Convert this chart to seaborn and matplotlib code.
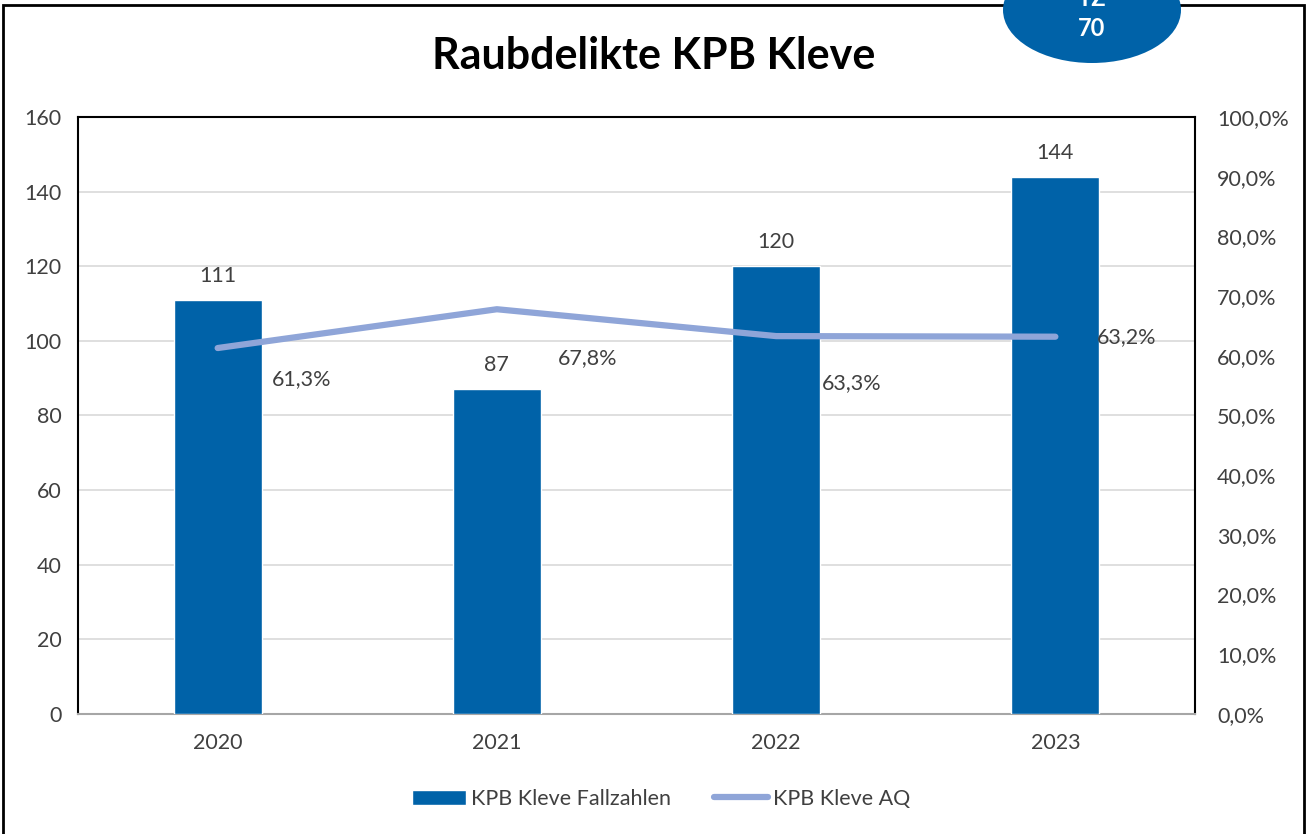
import numpy as np
import pandas as pd
import matplotlib
matplotlib.use("Agg")
import matplotlib.pyplot as plt
from matplotlib.patches import Rectangle, Ellipse
from matplotlib.ticker import FuncFormatter
import seaborn as sns

# data
years = ["2020", "2021", "2022", "2023"]
fallzahlen = [111, 87, 120, 144]
aq = [61.3, 67.8, 63.3, 63.2]

bar_color = "#0062A8"
line_color = "#8FA5D8"
txt = "#404040"
fs = 15.5

sns.set_style("white")
plt.rcParams["font.family"] = ["Lato", "DejaVu Sans"]

df = pd.DataFrame({"Jahr": years, "Fallzahlen": fallzahlen, "AQ": aq})

fig = plt.figure(figsize=(13.07, 8.34), dpi=100)
ax = fig.add_axes([0.0597, 0.1439, 0.8546, 0.7158])

sns.barplot(data=df, x="Jahr", y="Fallzahlen", color=bar_color, width=0.315,
            saturation=1, ax=ax, zorder=3, label="KPB Kleve Fallzahlen")
if ax.get_legend() is not None:
    ax.get_legend().remove()
ax.set_ylim(0, 160)
ax.set_yticks(range(0, 161, 20))
ax.yaxis.grid(True, color="#d9d9d9", linewidth=1.2, zorder=0)
ax.set_axisbelow(True)
ax.set_xlabel("")
ax.set_ylabel("")
ax.set_xlim(-0.5, 3.5)
for s in ax.spines.values():
    s.set_color("black")
    s.set_linewidth(1.5)
ax.spines["bottom"].set_color("#a6a6a6")
ax.tick_params(axis="y", labelsize=fs, labelcolor=txt, length=0, pad=12)
ax.tick_params(axis="x", labelsize=fs, labelcolor=txt, length=0, pad=14)

for i, v in enumerate(fallzahlen):
    ax.annotate(str(v), (i, v), xytext=(0, 10), textcoords="offset points",
                ha="center", va="bottom", fontsize=fs, color=txt)

ax2 = ax.twinx()
sns.lineplot(x=np.arange(len(years)), y=aq, color=line_color, linewidth=4.5,
             ax=ax2, zorder=4, label="KPB Kleve AQ", legend=False,
             solid_capstyle="round")
ax2.set_ylim(0, 100)
ax2.set_yticks(range(0, 101, 10))
ax2.yaxis.set_major_formatter(FuncFormatter(lambda v, p: f"{v:.1f}%".replace(".", ",")))
ax2.tick_params(axis="y", labelsize=fs, labelcolor=txt, length=0, pad=16)
for s in ax2.spines.values():
    s.set_visible(False)
ax2.set_ylabel("")

offsets = [(39, -22), (44, -35), (33, -34), (30, 0)]
for i, (v, off) in enumerate(zip(aq, offsets)):
    ax2.annotate(f"{v:.1f}%".replace(".", ","), (i, v), xytext=off,
                 textcoords="offset points", ha="left", va="center",
                 fontsize=fs, color=txt)

# legend
h1, l1 = ax.get_legend_handles_labels()
h2, l2 = ax2.get_legend_handles_labels()
fig.legend(h1 + h2, l1 + l2, loc="center", bbox_to_anchor=(0.506, 0.042), ncol=2,
           frameon=False, fontsize=fs, labelcolor=txt, handlelength=2.5,
           handletextpad=0.25, columnspacing=2.0)

fig.text(0.5, 0.933, "Raubdelikte KPB Kleve", ha="center", va="center",
         fontsize=31, fontweight="bold", color="black")

# outer frame and badge
fig.patches.append(Rectangle((0.0025, -0.01), 0.9955, 1.004, fill=False,
                             edgecolor="black", linewidth=2, transform=fig.transFigure))
fig.patches.append(Ellipse((1092 / 1307, 1 - 10 / 834), 178 / 1307, 106 / 834,
                           facecolor=bar_color, edgecolor="none",
                           transform=fig.transFigure, zorder=5))
fig.text(1092 / 1307, 1 + 2 / 834, "TZ", ha="center", va="center", fontsize=17,
         fontweight="bold", color="white", zorder=6)
fig.text(1092 / 1307, 1 - 28 / 834, "70", ha="center", va="center", fontsize=17,
         fontweight="bold", color="white", zorder=6)

fig.savefig("out.png", dpi=100)
